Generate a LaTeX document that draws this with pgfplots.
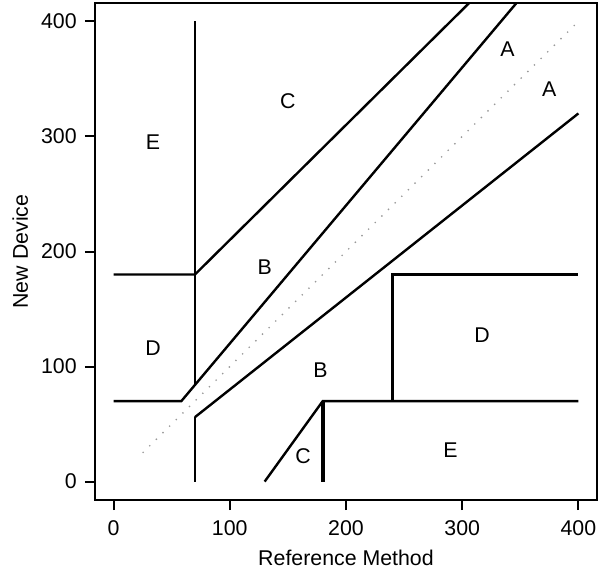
\documentclass[border=0pt]{standalone}
\usepackage{pgfplots}
\pgfplotsset{compat=1.18}
\usepackage{fontspec}
\setmainfont{Liberation Sans}
\begin{document}
\begin{tikzpicture}[font=\fontsize{16}{19}\selectfont]
\begin{axis}[
    name=ax,
    scale only axis,
    width=376.5pt, height=372.75pt,
    xmin=-16, xmax=416, ymin=-16, ymax=416,
    xtick={0,100,...,400}, ytick={0,100,...,400},
    xtick pos=bottom, ytick pos=left,
    tick align=outside, major tick length=7.5pt,
    tick style={line width=1.5pt, black},
    axis line style={line width=1.8pt},
    /pgf/number format/assume math mode=true,
    ticklabel style={font=\fontsize{16}{19}\selectfont, inner sep=0pt},
    xticklabel style={yshift=-7.5pt},
    yticklabel style={xshift=-6pt},
    xlabel={Reference Method}, ylabel={New Device},
    xlabel style={at={([yshift=-37.5pt]axis description cs:0.5,0)}, anchor=north, inner sep=0pt},
    ylabel style={at={([xshift=-50pt]axis description cs:0,0.5)}, anchor=south, inner sep=0pt},
    every axis plot/.append style={line width=1.8pt, black},
    clip=true,
]
% zone boundaries
\addplot[no marks] coordinates {(0,70) (58.33,70) (346.7,416)};
\addplot[no marks] coordinates {(70,56) (400,320)};
\addplot[no marks] coordinates {(70,0) (70,56)};
\addplot[no marks] coordinates {(70,84) (70,400)};
\addplot[no marks] coordinates {(0,180) (70,180) (306,416)};
\addplot[no marks] coordinates {(130,0) (180,70) (400,70)};
\addplot[no marks, line width=2.8pt] coordinates {(180,0) (180,70)};
\addplot[no marks] coordinates {(240,70) (240,180) (400,180)};
% identity line
\addplot[no marks, gray!80, line width=1pt, dash pattern=on 1pt off 6pt] coordinates {(25,25) (400,400)};
% zone labels
\node at (axis cs:34,295) {E};
\node at (axis cs:150,331) {C};
\node at (axis cs:130,186) {B};
\node at (axis cs:34,116) {D};
\node at (axis cs:339,376) {A};
\node at (axis cs:375,341) {A};
\node at (axis cs:317,127) {D};
\node at (axis cs:178,97) {B};
\node at (axis cs:163,22) {C};
\node at (axis cs:290,27) {E};
\end{axis}
\pgfresetboundingbox
\path[use as bounding box] ([xshift=-71.25pt,yshift=-53.25pt]ax.south west) rectangle ++(449.25pt,428.25pt);
\end{tikzpicture}
\end{document}
